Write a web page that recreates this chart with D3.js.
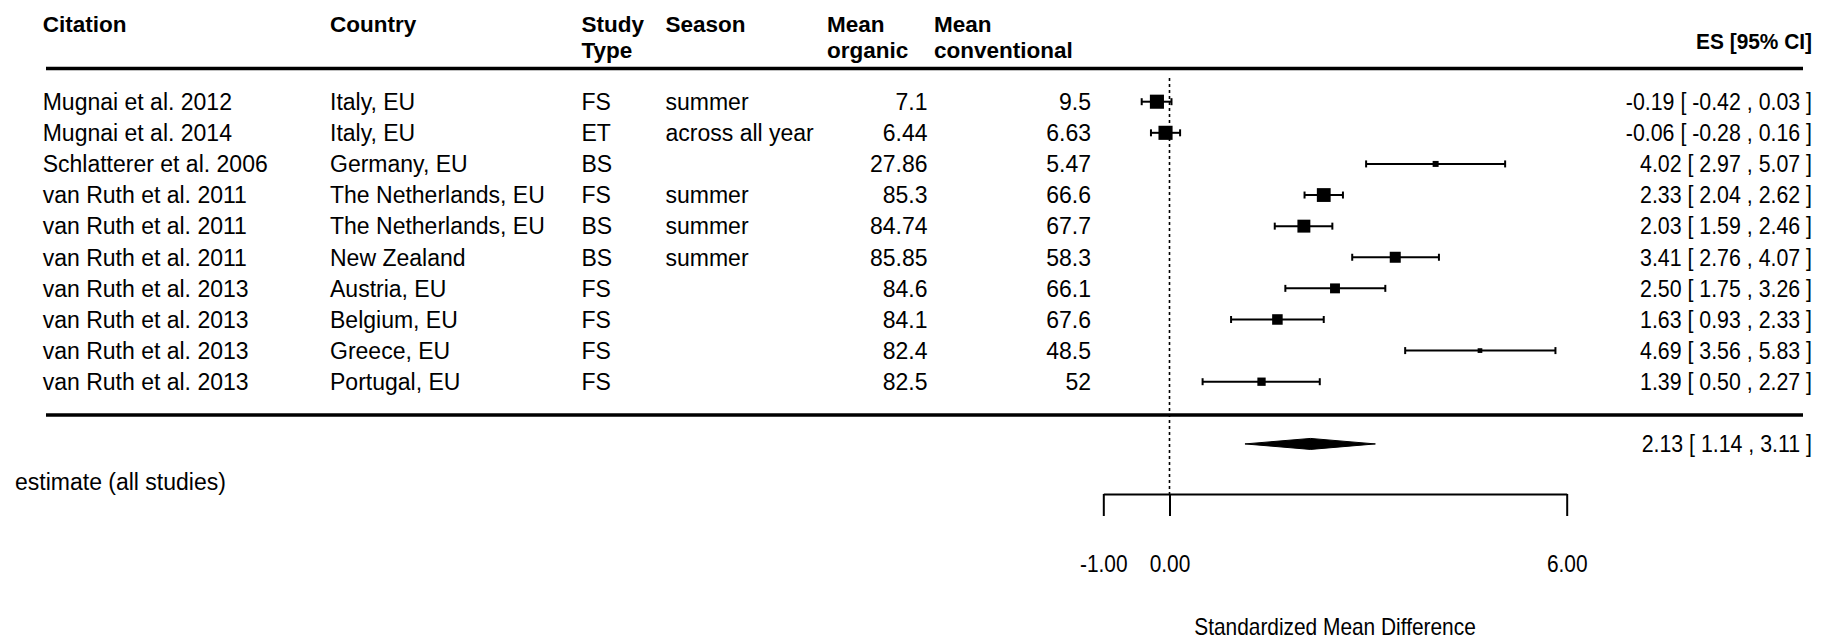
<!DOCTYPE html>
<html>
<head>
<meta charset="utf-8">
<script src="https://cdn.jsdelivr.net/npm/d3@7"></script>
<style>
  html, body { margin: 0; padding: 0; background: #fff; }
  svg { display: block; font-family: "Liberation Sans", Arial, Helvetica, sans-serif; }
</style>
</head>
<body>
<svg id="chart" width="1843" height="640"></svg>
<script>
// ---- study table ----
const citations = [
  "Mugnai et al. 2012", "Mugnai et al. 2014", "Schlatterer et al. 2006",
  "van Ruth et al. 2011", "van Ruth et al. 2011", "van Ruth et al. 2011",
  "van Ruth et al. 2013", "van Ruth et al. 2013", "van Ruth et al. 2013", "van Ruth et al. 2013"
];
const countries = [
  "Italy, EU", "Italy, EU", "Germany, EU", "The Netherlands, EU", "The Netherlands, EU",
  "New Zealand", "Austria, EU", "Belgium, EU", "Greece, EU", "Portugal, EU"
];
const studyTypes = ["FS", "ET", "BS", "FS", "BS", "BS", "FS", "FS", "FS", "FS"];
const seasons = ["summer", "across all year", "", "summer", "summer", "summer", "", "", "", ""];
const meanOrganic = ["7.1", "6.44", "27.86", "85.3", "84.74", "85.85", "84.6", "84.1", "82.4", "82.5"];
const meanConventional = ["9.5", "6.63", "5.47", "66.6", "67.7", "58.3", "66.1", "67.6", "48.5", "52"];

// ---- effect sizes (standardized mean difference) ----
const effectSizes = [-0.19, -0.06, 4.02, 2.33, 2.03, 3.41, 2.50, 1.63, 4.69, 1.39];
const ciLower     = [-0.42, -0.28, 2.97, 2.04, 1.59, 2.76, 1.75, 0.93, 3.56, 0.50];
const ciUpper     = [ 0.03,  0.16, 5.07, 2.62, 2.46, 4.07, 3.26, 2.33, 5.83, 2.27];

// ---- pooled estimate ----
const pooledLabel = "estimate (all studies)";
const pooledEstimate = 2.13;
const pooledLower = 1.14;
const pooledUpper = 3.11;

// ---- axis ----
const axisTicks = [-1, 0, 6];
const axisTitle = "Standardized Mean Difference";

// ---- column headers ----
const headerLines = [
  { text: ["Citation"], col: "citation" },
  { text: ["Country"], col: "country" },
  { text: ["Study", "Type"], col: "type" },
  { text: ["Season"], col: "season" },
  { text: ["Mean", "organic"], col: "organic" },
  { text: ["Mean", "conventional"], col: "conventional" }
];
const esHeader = "ES [95% CI]";

// ------------------------------------------------------------
const svg = d3.select("#chart");
const k = effectSizes.length;

const x = d3.scaleLinear().domain([-1, 6]).range([1103.3, 1566.7]);
const y = d3.scaleLinear().domain([0, k - 1]).range([101.7, 381.7]);

const colX = { citation: 42.7, country: 330, type: 581.5, season: 665.5, organic: 827, conventional: 934 };
const numRight = { organic: 927.5, conventional: 1091 };
const esRight = 1812;
const textSize = 23, headSize = 22.5, esScale = 0.928, axisScale = 0.87;
const baseOff = 8.3;

// plain hyphen-minus, two decimals
const f2 = v => v.toFixed(2);

// headers
const hdr = svg.append("g").attr("font-weight", "bold").attr("font-size", headSize);
headerLines.forEach(h => {
  h.text.forEach((t, i) => {
    hdr.append("text").attr("x", colX[h.col]).attr("y", 31.7 + i * 26.6).text(t);
  });
});
svg.append("text")
  .attr("transform", `translate(${esRight},49.3) scale(${esScale},1)`)
  .attr("text-anchor", "end").attr("font-weight", "bold").attr("font-size", headSize)
  .text(esHeader);

// separator rules
const ruleX0 = 46, ruleX1 = 1803;
[y(-1.07), y(10.07)].forEach(yy => {
  svg.append("line").attr("x1", ruleX0).attr("x2", ruleX1).attr("y1", yy).attr("y2", yy)
    .attr("stroke", "#000").attr("stroke-width", 3.5);
});

// table rows
const rows = svg.append("g").attr("font-size", textSize).attr("fill", "#000");
d3.range(k).forEach(i => {
  const by = y(i) + baseOff;
  rows.append("text").attr("x", colX.citation).attr("y", by).text(citations[i]);
  rows.append("text").attr("x", colX.country).attr("y", by).text(countries[i]);
  rows.append("text").attr("x", colX.type).attr("y", by).text(studyTypes[i]);
  rows.append("text").attr("x", colX.season).attr("y", by).text(seasons[i]);
  rows.append("text").attr("x", numRight.organic).attr("y", by).attr("text-anchor", "end").text(meanOrganic[i]);
  rows.append("text").attr("x", numRight.conventional).attr("y", by).attr("text-anchor", "end").text(meanConventional[i]);
});

// ES [95% CI] labels
const esText = (e, l, u) => `${f2(e)} [ ${f2(l)} , ${f2(u)} ]`;
const esG = svg.append("g").attr("font-size", textSize).attr("text-anchor", "end");
d3.range(k).forEach(i => {
  esG.append("text")
    .attr("transform", `translate(${esRight},${y(i) + baseOff}) scale(${esScale},1)`)
    .text(esText(effectSizes[i], ciLower[i], ciUpper[i]));
});
const yPooled = y(k + 1);
esG.append("text")
  .attr("transform", `translate(${esRight},${yPooled + baseOff}) scale(${esScale},1)`)
  .text(esText(pooledEstimate, pooledLower, pooledUpper));

// pooled label
svg.append("text").attr("x", 15).attr("y", 490).attr("font-size", textSize).text(pooledLabel);

// random-effects weights (DerSimonian-Laird) set the square sizes
const z = 1.959964;
const vi = d3.range(k).map(i => Math.pow((ciUpper[i] - ciLower[i]) / (2 * z), 2));
const wFE = vi.map(v => 1 / v);
const sumW = d3.sum(wFE);
const yFE = d3.sum(wFE.map((w, i) => w * effectSizes[i])) / sumW;
const Q = d3.sum(wFE.map((w, i) => w * Math.pow(effectSizes[i] - yFE, 2)));
const C = sumW - d3.sum(wFE.map(w => w * w)) / sumW;
const tau2 = Math.max(0, (Q - (k - 1)) / C);
const sw = vi.map(v => Math.sqrt(1 / (v + tau2)));
const psize = d3.scaleLinear().domain(d3.extent(sw)).range([0.5, 1.5]);
const squareBase = 9.4;

// zero reference line
const axisY = 494;
svg.append("line")
  .attr("x1", x(0)).attr("x2", x(0)).attr("y1", 78).attr("y2", axisY)
  .attr("stroke", "#000").attr("stroke-width", 1.6).attr("stroke-dasharray", "3,3");

// confidence intervals and point estimates
const marks = svg.append("g").attr("stroke", "#000").attr("fill", "#000");
d3.range(k).forEach(i => {
  const yy = y(i);
  marks.append("line").attr("x1", x(ciLower[i])).attr("x2", x(ciUpper[i]))
    .attr("y1", yy).attr("y2", yy).attr("stroke-width", 2);
  [ciLower[i], ciUpper[i]].forEach(v => {
    marks.append("line").attr("x1", x(v)).attr("x2", x(v))
      .attr("y1", yy - 3.5).attr("y2", yy + 3.5).attr("stroke-width", 2);
  });
  const s = psize(sw[i]) * squareBase;
  marks.append("rect").attr("x", x(effectSizes[i]) - s / 2).attr("y", yy - s / 2)
    .attr("width", s).attr("height", s).attr("stroke", "none");
});

// pooled diamond
const dh = 5.5;
svg.append("polygon")
  .attr("points", [
    [x(pooledLower), yPooled], [x(pooledEstimate), yPooled - dh],
    [x(pooledUpper), yPooled], [x(pooledEstimate), yPooled + dh]
  ].map(p => p.join(",")).join(" "))
  .attr("fill", "#000").attr("stroke", "#000").attr("stroke-width", 1);

// x axis
const axis = d3.axisBottom(x).tickValues(axisTicks).tickSize(22).tickSizeOuter(0)
  .tickFormat(f2);
const ax = svg.append("g").attr("transform", `translate(0,${axisY})`).call(axis);
ax.attr("font-family", null);
ax.select(".domain").attr("stroke", "#000").attr("stroke-width", 2);
ax.selectAll(".tick line").attr("stroke", "#000").attr("stroke-width", 2);
ax.selectAll(".tick text")
  .attr("y", null).attr("dy", null)
  .attr("transform", `translate(0,77.7) scale(${axisScale},1)`)
  .attr("font-size", 24).attr("fill", "#000");

svg.append("text")
  .attr("transform", `translate(${(x.range()[0] + x.range()[1]) / 2},635) scale(${axisScale},1)`)
  .attr("text-anchor", "middle").attr("font-size", 24).text(axisTitle);
</script>
</body>
</html>
